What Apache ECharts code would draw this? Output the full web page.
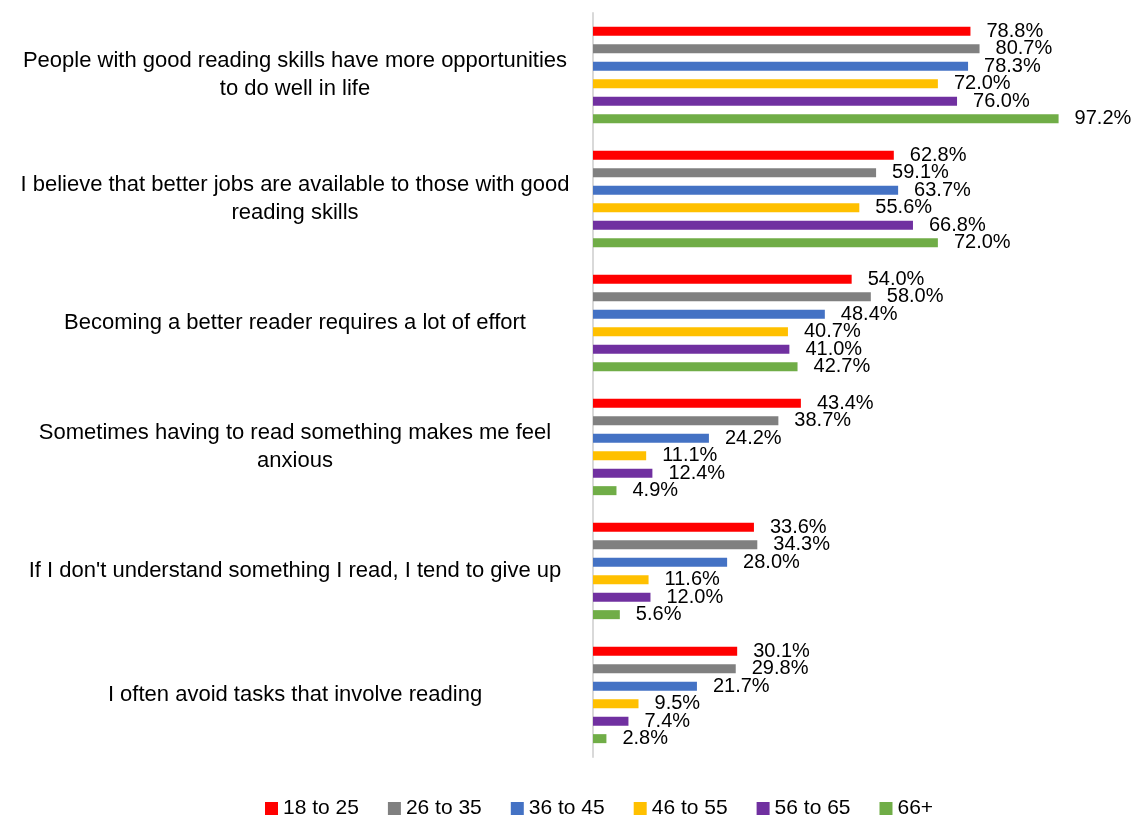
<!DOCTYPE html>
<html>
<head>
<meta charset="utf-8">
<script src="https://cdn.jsdelivr.net/npm/echarts@6/dist/echarts.min.js"></script>
<style>
  html, body { margin: 0; padding: 0; background: #fff; }
  #chart { width: 1139px; height: 818px; }
</style>
</head>
<body>
<div id="chart"></div>
<script>
// Survey statements (top to bottom)
const statements = [
  'People with good reading skills have more opportunities\nto do well in life',
  'I believe that better jobs are available to those with good\nreading skills',
  'Becoming a better reader requires a lot of effort',
  'Sometimes having to read something makes me feel\nanxious',
  "If I don't understand something I read, I tend to give up",
  'I often avoid tasks that involve reading'
];

// Age groups
const ageGroups = ['18 to 25', '26 to 35', '36 to 45', '46 to 55', '56 to 65', '66+'];

// Share agreeing (%), one array per age group, in statement order
const age18to25 = [78.8, 62.8, 54.0, 43.4, 33.6, 30.1];
const age26to35 = [80.7, 59.1, 58.0, 38.7, 34.3, 29.8];
const age36to45 = [78.3, 63.7, 48.4, 24.2, 28.0, 21.7];
const age46to55 = [72.0, 55.6, 40.7, 11.1, 11.6, 9.5];
const age56to65 = [76.0, 66.8, 41.0, 12.4, 12.0, 7.4];
const age66plus = [97.2, 72.0, 42.7, 4.9, 5.6, 2.8];

const seriesValues = [age18to25, age26to35, age36to45, age46to55, age56to65, age66plus];
const colors = ['#FF0000', '#808080', '#4472C4', '#FFC000', '#7030A0', '#70AD47'];

const FONT = '"Liberation Sans", Arial, sans-serif';

const chart = echarts.init(document.getElementById('chart'), null, { renderer: 'canvas' });

chart.setOption({
  animation: false,
  color: colors,
  textStyle: { fontFamily: FONT },
  grid: { left: 593, right: 67, top: 13, bottom: 61, containLabel: false },
  legend: {
    left: 265,
    top: 798,
    padding: 0,
    itemWidth: 13,
    itemHeight: 13,
    itemGap: 29,
    icon: 'rect',
    textStyle: { fontFamily: FONT, fontSize: 21, color: '#000' },
    data: ageGroups
  },
  xAxis: {
    type: 'value',
    min: 0,
    max: 100,
    show: false,
    splitLine: { show: false }
  },
  yAxis: {
    type: 'category',
    inverse: true,
    data: statements,
    axisTick: { show: false },
    axisLine: { lineStyle: { color: '#d9d9d9', width: 2 } },
    axisLabel: {
      align: 'center',
      margin: 298,
      fontFamily: FONT,
      fontSize: 22,
      lineHeight: 28,
      color: '#000'
    }
  },
  series: ageGroups.map((name, i) => ({
    name: name,
    type: 'bar',
    data: seriesValues[i],
    barWidth: 9,
    barGap: '94%',
    itemStyle: { color: colors[i] },
    label: {
      show: true,
      position: 'right',
      distance: 16,
      fontFamily: FONT,
      fontSize: 20,
      color: '#000',
      formatter: p => p.value.toFixed(1) + '%'
    }
  }))
});
</script>
</body>
</html>
